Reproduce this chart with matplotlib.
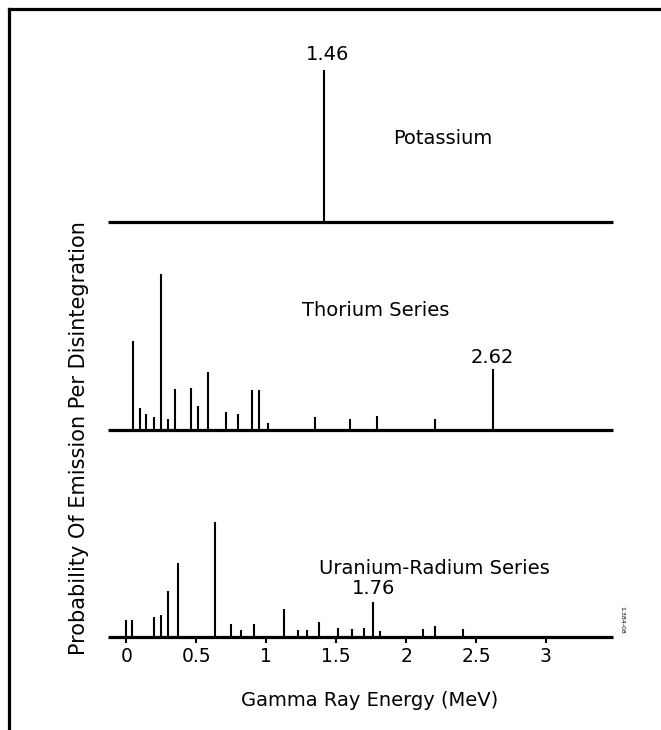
import matplotlib
matplotlib.use("Agg")
import matplotlib.pyplot as plt
from matplotlib.lines import Line2D

plt.rcParams['font.family'] = ['DejaVu Sans']

W, H = 661, 730

# gamma lines: energy (MeV) and relative probability (arbitrary units)
k_energy = [1.41]
k_prob = [152]

th_energy = [0.05, 0.10, 0.14, 0.20, 0.25, 0.30, 0.35, 0.46, 0.51, 0.58,
             0.71, 0.80, 0.90, 0.95, 1.01, 1.35, 1.60, 1.79, 2.21, 2.62]
th_prob = [89, 22, 16, 13, 156, 11, 41, 42, 24, 58,
           18, 16, 40, 40, 7, 13, 11, 14, 11, 61]

u_energy = [0.00, 0.04, 0.20, 0.25, 0.30, 0.37, 0.63, 0.75, 0.82, 0.91, 1.13,
            1.23, 1.29, 1.38, 1.51, 1.61, 1.70, 1.76, 1.81, 2.12, 2.21, 2.41]
u_prob = [17, 17, 20, 22, 46, 74, 115, 13, 7, 13, 28,
          7, 7, 15, 9, 8, 9, 35, 6, 8, 11, 8]

series = ['Potassium', 'Thorium Series', 'Uranium-Radium Series']
peak_labels = ['1.46', '2.62', '1.76']
peak_idx = [0, 19, 17]   # which line carries the label
xticks = [0, 0.5, 1, 1.5, 2, 2.5, 3]
xtick_labels = ['0', '0.5', '1', '1.5', '2', '2.5', '3']

# pixel layout
x0_px, x1_px = 108, 613
mev0_px, px_per_mev = 126.5, 139.8
xlim = ((x0_px - mev0_px) / px_per_mev, (x1_px - mev0_px) / px_per_mev)
FS = 14


def fx(x):
    return x / W


def fy(y):
    return 1 - y / H


fig = plt.figure(figsize=(W / 100, H / 100), dpi=100)

# baseline px, top px, series name centre px, peak label offset (pt)
panels = [
    (k_energy, k_prob, 222, 50, (443, 138), (3, 11.3)),
    (th_energy, th_prob, 430, 260, (376, 311), (0, 8)),
    (u_energy, u_prob, 637, 500, (434, 568), (1, 9.4)),
]

for i, (en, pr, base, top, name_xy, off) in enumerate(panels):
    ax = fig.add_axes([fx(x0_px), fy(base), (x1_px - x0_px) / W, (base - top) / H])
    ax.set_xlim(*xlim)
    ax.set_ylim(0, base - top)
    ax.vlines(en, 0, pr, color='black', lw=1.5, capstyle='butt')
    ax.axhline(0, color='black', lw=2.3, solid_capstyle='butt', clip_on=False)
    for s in ax.spines.values():
        s.set_visible(False)
    ax.set_yticks([])
    j = peak_idx[i]
    ax.annotate(peak_labels[i], (en[j], pr[j]), xytext=off, textcoords='offset points',
                ha='center', va='center', fontsize=FS)
    fig.text(fx(name_xy[0]), fy(name_xy[1]), series[i], ha='center', va='center',
             fontsize=FS)
    if i < 2:
        ax.set_xticks([])
    else:
        ax.set_xticks(xticks)
        ax.set_xticklabels(xtick_labels, fontsize=13.5)
        ax.tick_params(axis='x', direction='out', length=4, width=1.5, pad=3)

fig.text(fx(370), fy(700), 'Gamma Ray Energy (MeV)', ha='center', va='center', fontsize=FS)
fig.text(fx(79), fy(438), 'Probability Of Emission Per Disintegration', rotation=90,
         ha='center', va='center', fontsize=15)

# scan residue at the right edge
fig.text(fx(622), fy(620), '1.384-08', rotation=270, ha='center', va='center', fontsize=4.5)

# frame of the scanned page (top and left only)
fig.add_artist(Line2D([fx(9), 1], [fy(9), fy(9)], color='black', lw=2.3,
                      transform=fig.transFigure))
fig.add_artist(Line2D([fx(9), fx(9)], [0, fy(9)], color='black', lw=2.3,
                      transform=fig.transFigure))

fig.savefig('out.png', dpi=100, facecolor='white')
